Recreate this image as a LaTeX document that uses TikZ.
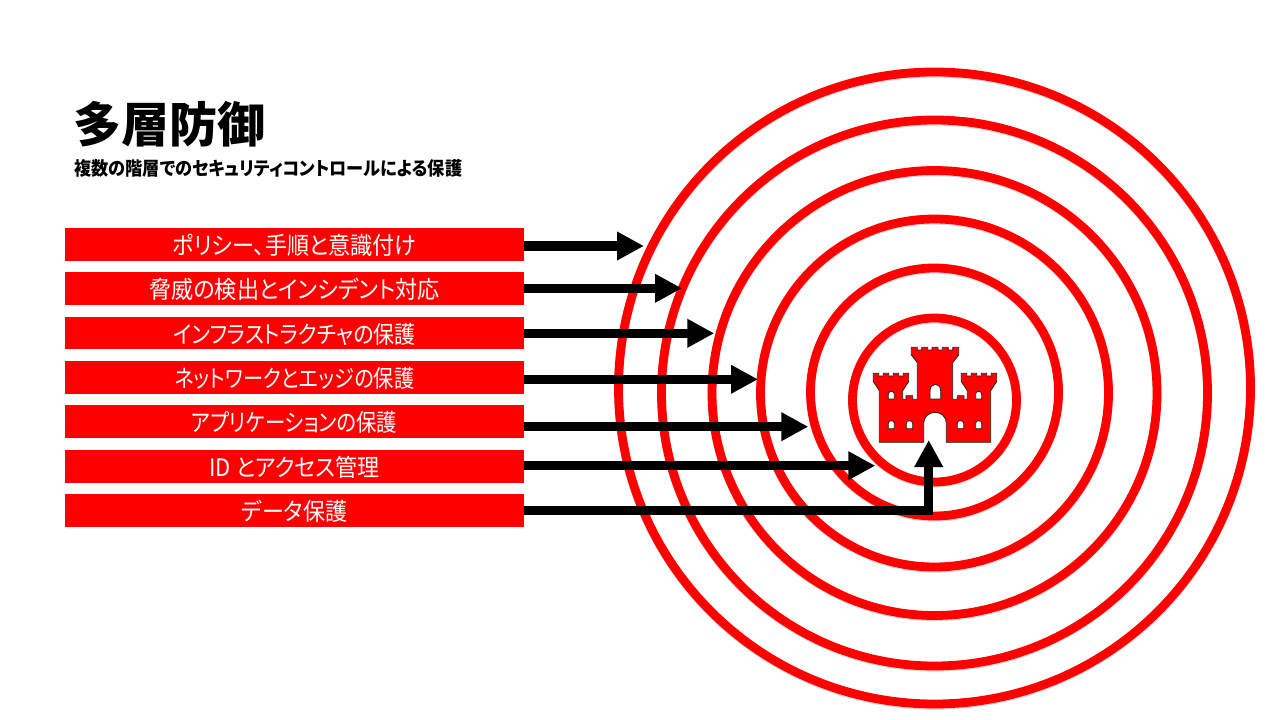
\documentclass[tikz,border=0pt]{standalone}
\usepackage{graphicx}
\usepackage{fontspec}
\setmainfont[RawFeature=+palt]{Noto Sans CJK JP}
\newfontfamily\lblfont[RawFeature=+palt,FakeStretch=0.92]{Noto Sans CJK JP}
\usetikzlibrary{arrows.meta}
\definecolor{ringred}{RGB}{255,0,0}
\tikzset{
  px/.style={x=0.75pt,y=-0.75pt},
  ring/.style={draw=ringred,line width=6.6pt},
  ringshade/.style={draw=black!35,line width=6.6pt},
  labelbox/.style={fill=ringred,text=white,inner sep=0pt,minimum width=344.25pt,minimum height=24.6pt,
    text height=16.5pt,text depth=1pt,align=center,font=\lblfont\fontsize{18}{20}\selectfont},
  arrowline/.style={draw=black,line width=6.75pt,-{Triangle[length=20.25pt,width=20.25pt]}},
  castle/.style={fill=ringred,draw=black!85,line width=0.6pt,even odd rule,line join=miter}
}
\begin{document}
\begin{tikzpicture}[px]
\useasboundingbox (0,0) rectangle (1280,720);
\fill[white] (0,0) rectangle (1280,720);
% rings
\foreach \cy/\rr in {388/316,393/273,393/222.5,393/174,392/124,400/82}{
  \draw[ringshade,opacity=.45] (934.5,\cy+1.2) circle[radius=\rr];
}
\foreach \cy/\rr in {388/316,393/273,393/222.5,393/174,392/124,400/82}{
  \draw[ring] (934.5,\cy) circle[radius=\rr];
}
% castle
\begin{scope}[shift={(840,330)},x=0.25pt,y=-0.25pt]
\path[castle]
  (118,337) -- (118,182) -- (100,155) -- (100,130) -- (116,130) -- (116,138) -- (130,138) -- (130,130) -- (146,130) -- (146,138) -- (160,138) -- (160,130) -- (176,130) -- (176,138) -- (190,138) -- (190,130) -- (206,130)
  -- (206,155) -- (188,182) -- (188,208) -- (198,208) -- (198,197) -- (218,197) -- (218,208) -- (232,208)
  -- (232,98) -- (214,75) -- (214,52) -- (232,52) -- (232,60) -- (245,60) -- (245,52) -- (263,52) -- (263,60) -- (276,60) -- (276,52) -- (294,52) -- (294,60) -- (307,60) -- (307,52) -- (325,52) -- (325,60) -- (338,60) -- (338,52) -- (356,52)
  -- (356,75) -- (338,98) -- (338,208) -- (352,208) -- (352,197) -- (372,197) -- (372,208) -- (382,208)
  -- (382,182) -- (364,155) -- (364,130) -- (380,130) -- (380,138) -- (394,138) -- (394,130) -- (410,130) -- (410,138) -- (424,138) -- (424,130) -- (440,130) -- (440,138) -- (454,138) -- (454,130) -- (470,130)
  -- (470,155) -- (452,182) -- (452,337) -- (319,337) -- (319,280)
  .. controls (319,261) and (304,247) .. (285,247) .. controls (266,247) and (251,261) .. (251,280) -- (251,337) -- cycle
  % central window
  (270,207) -- (270,182) .. controls (270,171) and (277,163) .. (286,163) .. controls (295,163) and (302,171) .. (302,182) -- (302,207) -- cycle
  % upper windows
  (145,207) -- (145,192) .. controls (145,187) and (149,184) .. (154,184) .. controls (159,184) and (163,187) .. (163,192) -- (163,207) -- cycle
  (407,207) -- (407,192) .. controls (407,187) and (411,184) .. (416,184) .. controls (421,184) and (425,187) .. (425,192) -- (425,207) -- cycle
  % lower windows
  (145,296) -- (145,280) .. controls (145,275) and (149,272) .. (154,272) .. controls (159,272) and (163,275) .. (163,280) -- (163,296) -- cycle
  (199,296) -- (199,280) .. controls (199,275) and (203,272) .. (208,272) .. controls (213,272) and (218,275) .. (218,280) -- (218,296) -- cycle
  (352,296) -- (352,280) .. controls (352,275) and (356,272) .. (361,272) .. controls (366,272) and (371,275) .. (371,280) -- (371,296) -- cycle
  (407,296) -- (407,280) .. controls (407,275) and (411,272) .. (416,272) .. controls (421,272) and (425,275) .. (425,280) -- (425,296) -- cycle;
\end{scope}
% title
\node[anchor=west,inner sep=0pt,font=\fontsize{36}{40}\selectfont\bfseries] (title) at (73,124) {多層防御};
\node[anchor=west,inner sep=0pt,font=\lblfont\fontsize{14}{16}\selectfont\bfseries] (sub) at (74,168) {複数の階層でのセキュリティコントロールによる保護};
% boxes
\node[labelbox] (b1) at (294.5,244.4) {ポリシー、手順と意識付け};
\node[labelbox] (b2) at (294.5,288.4) {脅威の検出とインシデント対応};
\node[labelbox] (b3) at (294.5,332.9) {\scalebox{0.952}[1]{インフラストラクチャの保護}};
\node[labelbox] (b4) at (294.5,377.4) {\scalebox{0.916}[1]{ネットワークとエッジの保護}};
\node[labelbox] (b5) at (294.5,421.4) {\scalebox{0.923}[1]{アプリケーションの保護}};
\node[labelbox] (b6) at (294.5,466.4) {ID とアクセス管理};
\node[labelbox] (b7) at (294.5,510.4) {データ保護};
% arrow ends
\coordinate (t1) at (644,246);
\coordinate (t2) at (682,288.3);
\coordinate (t3) at (714.3,333.3);
\coordinate (t4) at (758,379.3);
\coordinate (t5) at (808.3,426.7);
\coordinate (t6) at (875.3,465.7);
\coordinate (t7) at (928.7,440);
\coordinate (t7b) at (928.7,510);
\draw[arrowline] (b1.east |- t1) -- (t1);
\draw[arrowline] (b2.east |- t2) -- (t2);
\draw[arrowline] (b3.east |- t3) -- (t3);
\draw[arrowline] (b4.east |- t4) -- (t4);
\draw[arrowline] (b5.east |- t5) -- (t5);
\draw[arrowline] (b6.east |- t6) -- (t6);
\draw[arrowline] (b7.east |- t7b) -- (t7b) -- (t7);
\end{tikzpicture}
\end{document}
